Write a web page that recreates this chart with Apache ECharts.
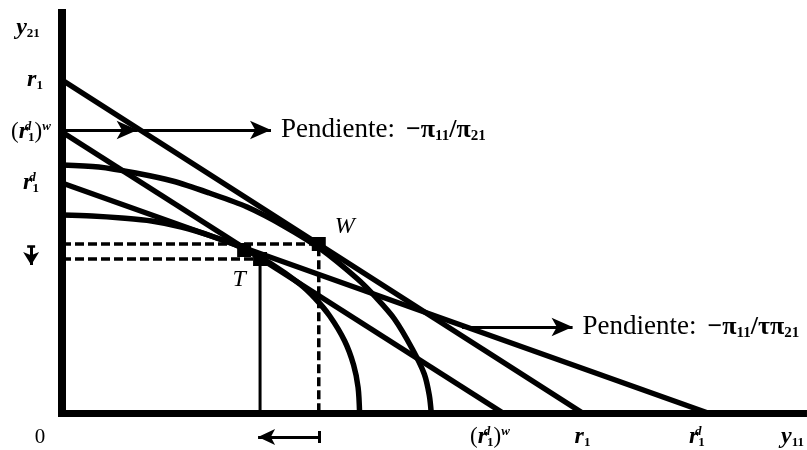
<!DOCTYPE html>
<html>
<head>
<meta charset="utf-8">
<script src="https://cdn.jsdelivr.net/npm/echarts@6/dist/echarts.min.js"></script>
<style>
  html, body { margin: 0; padding: 0; background: #fff; }
  #chart { width: 807px; height: 450px; }
</style>
</head>
<body>
<div id="chart"></div>
<script>
// Price lines: [y21 intercept, y11 intercept]
const lineR1 = [[0, 33.3], [52.3, 0]];
const lineR1dW = [[0, 28.1], [44.3, 0]];
const lineR1d = [[0, 23.0], [64.9, 0]];

// Outer transformation curve
const outerX = [0, 3.7, 7.4, 11.1, 14.8, 18.6, 22.3, 26.0, 29.7, 31.5, 33.4, 35.2, 36.4, 36.9, 37.1];
const outerY = [24.8, 24.6, 24.0, 23.2, 22.0, 20.6, 18.7, 16.4, 13.4, 11.6, 9.4, 6.4, 3.9, 1.8, 0];

// Inner transformation curve
const innerX = [0, 3.0, 6.0, 9.0, 12.0, 15.0, 17.9, 20.9, 23.9, 25.4, 26.9, 28.4, 29.3, 29.75, 29.9];
const innerY = [19.8, 19.7, 19.5, 19.2, 18.6, 17.7, 16.6, 15.0, 12.9, 11.5, 9.7, 7.2, 4.8, 2.55, 0];

// Marked points
const pointW = [25.8, 16.9];
const pointT = [19.9, 15.4];
const pointT2 = [18.3, 16.3];

// Arrow segments (start, tip)
const slopeArrowTop1 = [[0, 28.3], [7.6, 28.3]];
const slopeArrowTop2 = [[7.6, 28.3], [21.0, 28.3]];
const slopeArrowLow = [[40.2, 8.6], [51.3, 8.6]];
const shiftArrowX = [[25.8, -2.4], [19.7, -2.4]];
const shiftArrowXBar = [[25.8, -1.8], [25.8, -3.0]];
const shiftArrowY = [[-3.1, 16.7], [-3.1, 14.8]];
const shiftArrowYBar = [[-3.5, 16.7], [-2.7, 16.7]];

// Tick labels
const xTickValues = [0, 44.3, 52.3, 64.9, 73.4];
const xTickLabels = [
  '{zero|0}',
  '{par|(}{r|r}{sup|d}{sub|1}{par|)}{supw|w}{gap26|}',
  '{r|r}{sub|1}',
  '{r|r}{sup|d}{sub|1}{gap22|}',
  '{r|y}{sub|11}'
];
const yTickValues = [33.3, 28.1, 23.0];
const yTickLabels = [
  '{gap8|}{r|r}{sub|1}',
  '{par|(}{r|r}{sup|d}{sub|1}{par|)}{supw|w}',
  '{r|r}{sup|d}{sub|1}'
];
const yAxisName = '{r|y}{sub|21}';

const slopeTextTop = '{p|Pendiente:}{sp|}{pb|−π}{ps|11}{pb|/π}{ps|21}';
const slopeTextLow = '{p|Pendiente:}{sp|}{pb|−π}{ps|11}{pb|/τπ}{ps|21}';

const SERIF = "'Liberation Serif', 'DejaVu Serif', serif";
const INK = '#000';

const rich = {
  r: { fontFamily: SERIF, fontStyle: 'italic', fontWeight: 'bold', fontSize: 24, lineHeight: 24, color: INK },
  sub: { fontFamily: SERIF, fontWeight: 'bold', fontSize: 13, lineHeight: 13, verticalAlign: 'bottom', color: INK },
  sup: { fontFamily: SERIF, fontStyle: 'italic', fontWeight: 'bold', fontSize: 13, lineHeight: 13, verticalAlign: 'top', width: 0, color: INK },
  supw: { fontFamily: SERIF, fontStyle: 'italic', fontWeight: 'bold', fontSize: 13, lineHeight: 13, verticalAlign: 'top', color: INK },
  par: { fontFamily: SERIF, fontSize: 23, lineHeight: 24, color: INK },
  zero: { fontFamily: SERIF, fontSize: 21, lineHeight: 24, color: INK, padding: [0, 44, 0, 0] },
  gap26: { width: 26 },
  gap22: { width: 22 },
  gap8: { width: 8 },
  sp: { width: 11 },
  p: { fontFamily: SERIF, fontSize: 27, lineHeight: 28, color: INK },
  pb: { fontFamily: SERIF, fontSize: 26, fontWeight: 'bold', lineHeight: 28, color: INK },
  ps: { fontFamily: SERIF, fontSize: 15, fontWeight: 'bold', lineHeight: 15, verticalAlign: 'bottom', color: INK }
};

function labelFor(values, labels) {
  return function (v) {
    for (let i = 0; i < values.length; i++) {
      if (Math.abs(values[i] - v) < 1e-6) return labels[i];
    }
    return '';
  };
}

function zip(xs, ys) {
  return xs.map((x, i) => [x, ys[i]]);
}

const thick = { color: INK, width: 5.5 };

const series = [];

// Price lines
[lineR1, lineR1dW, lineR1d].forEach(seg => {
  series.push({ type: 'line', data: seg, symbol: 'none', silent: true, lineStyle: thick, z: 3 });
});

// Transformation curves
series.push({ type: 'line', data: zip(outerX, outerY), smooth: 0.3, symbol: 'none', silent: true, lineStyle: thick, z: 3 });
series.push({ type: 'line', data: zip(innerX, innerY), smooth: 0.3, symbol: 'none', silent: true, lineStyle: thick, z: 3 });

// Guide lines to W and T
series.push({ type: 'line', data: [[0, pointW[1]], pointW, [pointW[0], 0]], symbol: 'none', silent: true,
  lineStyle: { color: INK, width: 3.5, type: [9, 4] }, z: 2 });
series.push({ type: 'line', data: [[0, pointT[1]], pointT], symbol: 'none', silent: true,
  lineStyle: { color: INK, width: 3.5, type: [9, 4] }, z: 2 });
series.push({ type: 'line', data: [pointT, [pointT[0], 0]], symbol: 'none', silent: true,
  lineStyle: { color: INK, width: 3 }, z: 2 });

// Points W and T
const pointLabel = {
  show: true, position: 'inside', color: INK, opacity: 1,
  textBorderWidth: 0, textShadowBlur: 0,
  fontFamily: SERIF, fontStyle: 'italic', fontWeight: 'normal', fontSize: 24
};
series.push({
  type: 'scatter', symbol: 'rect', symbolSize: 14, silent: true, z: 4,
  itemStyle: { color: INK, opacity: 1 },
  data: [
    { value: pointW, label: Object.assign({}, pointLabel, { formatter: 'W', offset: [26, -17] }) },
    { value: pointT, label: Object.assign({}, pointLabel, { formatter: 'T', offset: [-21, 21] }) },
    { value: pointT2 }
  ]
});

// Arrows
function arrow(coords, size, width, label) {
  const s = {
    type: 'lines', coordinateSystem: 'cartesian2d', clip: false, silent: true, z: 5,
    symbol: ['none', 'arrow'], symbolSize: [0, size],
    lineStyle: { color: INK, width: width, opacity: 1 },
    itemStyle: { color: INK },
    data: [{ coords: coords }]
  };
  if (label) {
    s.label = { show: true, position: 'end', distance: 10, formatter: label, rich: rich };
  }
  return s;
}
function bar(coords, width) {
  return {
    type: 'lines', coordinateSystem: 'cartesian2d', clip: false, silent: true, z: 5,
    symbol: 'none', lineStyle: { color: INK, width: width, opacity: 1 },
    data: [{ coords: coords }]
  };
}
series.push(arrow(slopeArrowTop1, [14, 21], 3));
series.push(arrow(slopeArrowTop2, [14, 21], 3, slopeTextTop));
series.push(arrow(slopeArrowLow, [14, 21], 3, slopeTextLow));
series.push(arrow(shiftArrowX, [12, 17], 3));
series.push(bar(shiftArrowXBar, 3));
series.push(arrow(shiftArrowY, [12, 13], 3));
series.push(bar(shiftArrowYBar, 2.5));

const chart = echarts.init(document.getElementById('chart'), null, { renderer: 'canvas' });
chart.setOption({
  animation: false,
  backgroundColor: '#fff',
  grid: { left: 62, right: 0, top: 13, bottom: 37 },
  xAxis: {
    type: 'value', min: 0, max: 74.5,
    splitLine: { show: false },
    axisTick: { show: false },
    axisLine: { show: true, onZero: false, lineStyle: { color: INK, width: 7, cap: 'square' } },
    axisLabel: { customValues: xTickValues, formatter: labelFor(xTickValues, xTickLabels), margin: 12, rich: rich }
  },
  yAxis: {
    type: 'value', min: 0, max: 40,
    splitLine: { show: false },
    axisTick: { show: false },
    axisLine: { show: true, onZero: false, lineStyle: { color: INK, width: 8, cap: 'square' } },
    axisLabel: { customValues: yTickValues, formatter: labelFor(yTickValues, yTickLabels), margin: 31, align: 'center', rich: rich },
    name: yAxisName,
    nameLocation: 'end',
    nameGap: -27,
    nameTextStyle: { rich: rich, padding: [0, 68, 0, 0] }
  },
  series: series
});
</script>
</body>
</html>
